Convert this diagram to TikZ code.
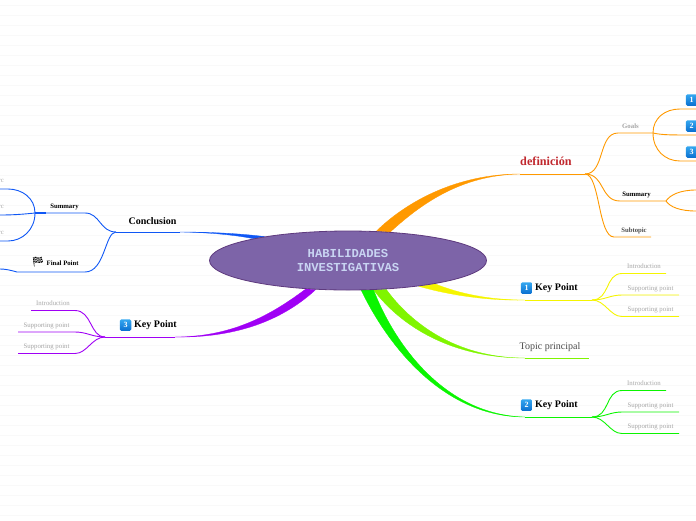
\documentclass[tikz,border=0pt]{standalone}
\usepackage{fontspec}
\usetikzlibrary{shapes.geometric,backgrounds}
\setmainfont{Liberation Serif}
\newfontfamily\rootfont{Liberation Mono}
\newfontfamily\flagfont{Noto Emoji}
\definecolor{defcol}{HTML}{FF9900}
\definecolor{concol}{HTML}{0F57F5}
\definecolor{yelcol}{HTML}{F5F500}
\definecolor{limecol}{HTML}{80F500}
\definecolor{grecol}{HTML}{0AF500}
\definecolor{purcol}{HTML}{A000F5}
\definecolor{rootcol}{HTML}{7D64A8}
\definecolor{rootline}{HTML}{5E3A7E}
\definecolor{roottext}{HTML}{C8D4F2}
\definecolor{badgetop}{HTML}{35A8F0}
\definecolor{badgebot}{HTML}{0A6FD0}
\definecolor{defred}{HTML}{C0272D}
\tikzset{
  thin line/.style={line width=0.9pt},
  wedge/.style={line width=0.3pt, line join=round},
  point/.style={font=\fontsize{6.8}{8}\selectfont, text=black!35, inner sep=0pt},
  sub/.style={font=\fontsize{6.7}{8}\selectfont\bfseries, inner sep=0pt},
  topic/.style={font=\fontsize{10}{12}\selectfont\bfseries, inner sep=0pt},
  badge/.style={top color=badgetop, bottom color=badgebot, rounded corners=1.5pt, minimum size=11.5pt, inner sep=0pt,
    text=white, font=\fontsize{8}{9}\selectfont\bfseries}
}
\begin{document}
\begin{tikzpicture}[x=1pt,y=-1pt]
	\useasboundingbox (0,0) rectangle (696,520);

	% Root
	\node[draw=rootline, fill=rootcol, ellipse, minimum width=277pt, minimum height=59pt, line width=0.8pt,
		inner sep=0pt, align=center, text=roottext, font=\rootfont\bfseries\fontsize{12.2}{14}\selectfont] (root) at (348,260.5) {HABILIDADES\ \\ INVESTIGATIVAS};

	% Branch ends
	\coordinate (defEnd) at (520,174);
	\coordinate (defFork) at (585,174);
	\coordinate (conEnd) at (180,232);
	\coordinate (conFork) at (116,232);
	\coordinate (keyAEnd) at (525,300);
	\coordinate (keyAFork) at (592,300);
	\coordinate (topEnd) at (525,358);
	\coordinate (topStop) at (589,358);
	\coordinate (keyBEnd) at (525,417);
	\coordinate (keyBFork) at (592,417);
	\coordinate (keyCEnd) at (175,337);
	\coordinate (keyCFork) at (105,337);

	\begin{scope}[on background layer]
		% Background lines
		\foreach \y in {5,15,...,515}
			\draw[black!2.5, line width=0.7pt] (0,\y) -- (696,\y);

		% Thick branches
		\filldraw[defcol, wedge] (root.46) .. controls (405,203) and (455,174) .. (defEnd) .. controls (460,175) and (420,205) .. (root.34) -- cycle;
		\filldraw[concol, wedge] (root.164) .. controls (240,233.5) and (210,232) .. (conEnd) .. controls (210,232.5) and (235,235) .. (root.167.5) -- cycle;
		\filldraw[yelcol, wedge] (root.-15.3) .. controls (460,294) and (490,300) .. (keyAEnd) .. controls (485,301) and (445,294) .. (root.-20.4) -- cycle;
		\filldraw[limecol, wedge] (root.-49) .. controls (400,325) and (450,358) .. (topEnd) .. controls (455,358) and (410,322) .. (root.-37) -- cycle;
		\filldraw[grecol, wedge] (root.-66) .. controls (385,340) and (440,417) .. (keyBEnd) .. controls (445,415) and (395,345) .. (root.-49) -- cycle;
		\filldraw[purcol, wedge] (root.214.5) .. controls (275,312) and (235,337) .. (keyCEnd) .. controls (240,338) and (285,318) .. (root.222.8) -- cycle;
	\end{scope}

	% definicion
	\draw[defcol, thin line] (defEnd) -- (defFork);
	\node[topic, text=defred, font=\fontsize{12.2}{14}\selectfont\bfseries] (defTxt) at (546,161.5) {definición};
	\coordinate (goalsFork) at (653,133);
	\coordinate (sumFork) at (666,201);
	\coordinate (subEnd) at (651,237);
	\coordinate (gOne) at (696,109);
	\coordinate (gTwo) at (696,135);
	\coordinate (gThree) at (696,161);
	\coordinate (sOne) at (696,190);
	\coordinate (sTwo) at (696,211);
	\draw[defcol, thin line] (defFork) .. controls (605,174) and (598,133) .. (618,133) -- (goalsFork);
	\draw[defcol, thin line] (defFork) .. controls (605,174) and (600,201) .. (620,201) -- (sumFork);
	\draw[defcol, thin line] (defFork) .. controls (600,174) and (598,237) .. (614,237) -- (subEnd);
	\draw[defcol, thin line] (goalsFork) .. controls (653,118) and (665,109) .. (680,109) -- (gOne);
	\draw[defcol, thin line] (goalsFork) .. controls (662,135) and (670,135) .. (gTwo);
	\draw[defcol, thin line] (goalsFork) .. controls (653,150) and (665,161) .. (680,161) -- (gThree);
	\draw[defcol, thin line] (sumFork) .. controls (670,195) and (680,190) .. (sOne);
	\draw[defcol, thin line] (sumFork) .. controls (670,207) and (680,211) .. (sTwo);
	\node[point, font=\fontsize{6.8}{8}\selectfont\bfseries] (goals) at (630.5,126.5) {Goals};
	\node[sub] (summaryR) at (636.5,194.5) {Summary};
	\node[sub, text=black!70] (subtopic) at (634,230.5) {Subtopic};
	\node[badge] (bOne) at (691.5,100) {1};
	\node[badge] (bTwo) at (691.5,126) {2};
	\node[badge] (bThree) at (691.5,152) {3};

	% Conclusion
	\draw[concol, thin line] (conEnd) -- (conFork);
	\node[topic] (conTxt) at (152.5,221) {Conclusion};
	\coordinate (sumForkL) at (35,213);
	\coordinate (sumStub) at (46,213);
	\coordinate (finalEnd) at (17,272);
	\coordinate (lOne) at (0,189);
	\coordinate (lTwo) at (0,215);
	\coordinate (lThree) at (0,241);
	\coordinate (lFinal) at (0,269);
	\draw[concol, thin line] (conFork) .. controls (100,232) and (100,213) .. (85,213) -- (sumForkL);
	\draw[concol, thin line] (conFork) .. controls (105,232) and (105,272) .. (85,272) -- (finalEnd) .. controls (10,270) and (5,269) .. (lFinal);
	\draw[concol, line width=1.6pt] (sumForkL) -- (sumStub);
	\draw[concol, thin line] (sumForkL) .. controls (35,198) and (22,189) .. (8,189) -- (lOne);
	\draw[concol, thin line] (sumForkL) .. controls (25,214) and (15,215) .. (lTwo);
	\draw[concol, thin line] (sumForkL) .. controls (35,230) and (22,241) .. (8,241) -- (lThree);
	\node[sub] (summaryL) at (64.5,206.5) {Summary};
	\node[sub, anchor=west] (final) at (46.5,263.5) {Final Point};
	\node[font=\flagfont\fontsize{10}{11}\selectfont, inner sep=0pt] (flag) at (38,262.5) {🏁};
	\node[point, anchor=east] (rOne) at (4,180.5) {rc};
	\node[point, anchor=east] (rTwo) at (4,206.5) {rc};
	\node[point, anchor=east] (rThree) at (4,232.5) {rc};

	% Key Point 1
	\draw[yelcol, thin line] (keyAEnd) -- (keyAFork);
	\coordinate (aOne) at (666,273.5);
	\coordinate (aTwo) at (679,295);
	\coordinate (aThree) at (679,316.5);
	\draw[yelcol, thin line] (keyAFork) .. controls (610,300) and (605,273.5) .. (622,273.5) -- (aOne);
	\draw[yelcol, thin line] (keyAFork) .. controls (605,300) and (610,295) .. (622,295) -- (aTwo);
	\draw[yelcol, thin line] (keyAFork) .. controls (605,300) and (610,316.5) .. (622,316.5) -- (aThree);
	\node[badge] (bKeyA) at (526.5,288) {1};
	\node[topic, anchor=west] (keyA) at (535,288) {Key Point};
	\node[point] (introA) at (644,266.5) {Introduction};
	\node[point] (suppA) at (650.5,288.5) {Supporting point};
	\node[point] (suppB) at (650.5,309.5) {Supporting point};

	% Topic principal
	\draw[limecol, thin line] (topEnd) -- (topStop);
	\node[font=\fontsize{10}{12}\selectfont, text=black!70, inner sep=0pt] (topTxt) at (550,347) {Topic principal};

	% Key Point 2
	\draw[grecol, thin line] (keyBEnd) -- (keyBFork);
	\coordinate (cOne) at (666,390.5);
	\coordinate (cTwo) at (679,412);
	\coordinate (cThree) at (679,433.5);
	\draw[grecol, thin line] (keyBFork) .. controls (610,417) and (605,390.5) .. (622,390.5) -- (cOne);
	\draw[grecol, thin line] (keyBFork) .. controls (605,417) and (610,412) .. (622,412) -- (cTwo);
	\draw[grecol, thin line] (keyBFork) .. controls (605,417) and (610,433.5) .. (622,433.5) -- (cThree);
	\node[badge] (bKeyB) at (526.5,405) {2};
	\node[topic, anchor=west] (keyB) at (535,405) {Key Point};
	\node[point] (introB) at (644,383.5) {Introduction};
	\node[point] (suppC) at (650.5,405.5) {Supporting point};
	\node[point] (suppD) at (650.5,426.5) {Supporting point};

	% Key Point 3
	\draw[purcol, thin line] (keyCEnd) -- (keyCFork);
	\coordinate (dOne) at (31,310.5);
	\coordinate (dTwo) at (18,332);
	\coordinate (dThree) at (18,353.5);
	\draw[purcol, thin line] (keyCFork) .. controls (90,337) and (92,310.5) .. (75,310.5) -- (dOne);
	\draw[purcol, thin line] (keyCFork) .. controls (92,337) and (87,332) .. (75,332) -- (dTwo);
	\draw[purcol, thin line] (keyCFork) .. controls (92,337) and (87,353.5) .. (75,353.5) -- (dThree);
	\node[badge] (bKeyC) at (125.5,325) {3};
	\node[topic, anchor=west] (keyC) at (134,325) {Key Point};
	\node[point] (introC) at (53,303.5) {Introduction};
	\node[point] (suppE) at (46.5,325.5) {Supporting point};
	\node[point] (suppF) at (46.5,346.5) {Supporting point};
\end{tikzpicture}
\end{document}
